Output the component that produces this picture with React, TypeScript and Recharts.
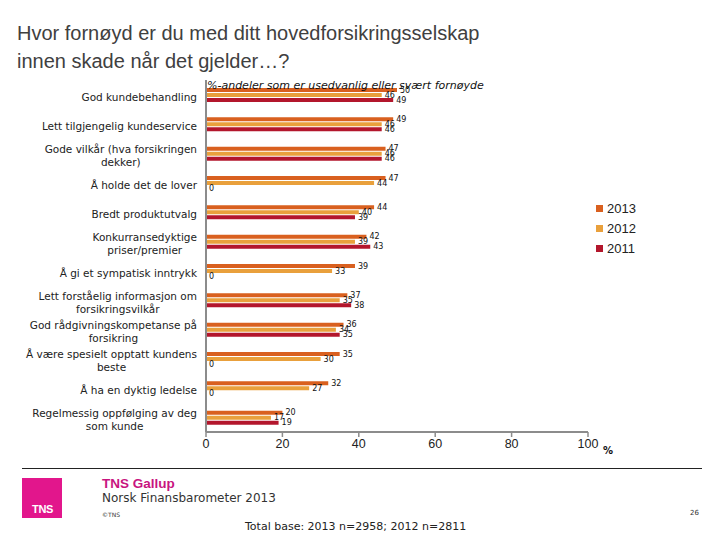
import React from "react";
import { BarChart, Bar, XAxis, YAxis, LabelList } from "recharts";

const categories = [
  "God kundebehandling",
  "Lett tilgjengelig kundeservice",
  "Gode vilkår (hva forsikringen dekker)",
  "Å holde det de lover",
  "Bredt produktutvalg",
  "Konkurransedyktige priser/premier",
  "Å gi et sympatisk inntrykk",
  "Lett forståelig informasjon om forsikringsvilkår",
  "God rådgivningskompetanse på forsikring",
  "Å være spesielt opptatt kundens beste",
  "Å ha en dyktig ledelse",
  "Regelmessig oppfølging av deg som kunde",
];
const values2013 = [50, 49, 47, 47, 44, 42, 39, 37, 36, 35, 32, 20];
const values2012 = [46, 46, 46, 44, 40, 39, 33, 35, 34, 30, 27, 17];
const values2011 = [49, 46, 46, 0, 39, 43, 0, 38, 35, 0, 0, 19];
const seriesNames = ["2013", "2012", "2011"];
const xTicks = [0, 20, 40, 60, 80, 100];

const COLORS = ["#D9601F", "#E9A03C", "#B3162C"];

const data = categories.map((c, i) => ({
  name: c,
  y2013: values2013[i],
  y2012: values2012[i],
  y2011: values2011[i],
}));

const TICK_FONT = "10.5px 'DejaVu Sans'";
let ctx: CanvasRenderingContext2D | null = null;
function measure(t: string): number {
  if (!ctx) {
    const c = document.createElement("canvas");
    ctx = c.getContext("2d");
  }
  if (!ctx) return t.length * 6;
  ctx.font = TICK_FONT;
  return ctx.measureText(t).width;
}
function wrap(text: string, maxW: number): string[] {
  const words = text.split(" ");
  const lines: string[] = [];
  let cur = "";
  for (const w of words) {
    const test = cur ? cur + " " + w : w;
    if (measure(test) > maxW && cur) {
      lines.push(cur);
      cur = w;
    } else cur = test;
  }
  if (cur) lines.push(cur);
  return lines;
}

const CategoryTick = (props: any) => {
  const { y, payload } = props;
  const lines = wrap(payload.value, 180);
  const widths = lines.map(measure);
  const maxW = Math.max(...widths);
  const right = 197;
  const lh = 13;
  const startY = y + 2 - ((lines.length - 1) * lh) / 2;
  const cx = right - maxW / 2;
  return (
    <g>
      {lines.map((l, i) => (
        <text
          key={i}
          x={lines.length > 1 ? cx : right}
          y={startY + i * lh}
          textAnchor={lines.length > 1 ? "middle" : "end"}
          dominantBaseline="central"
          fontFamily="'DejaVu Sans'"
          fontSize={10.5}
          fill="#222"
        >
          {l}
        </text>
      ))}
    </g>
  );
};

const ValueLabel = (props: any) => {
  const { x, y, width, height, value } = props;
  const w = value === 0 ? 0 : width;
  return (
    <text
      x={x + w + 3}
      y={y + height / 2}
      dominantBaseline="central"
      fontFamily="'DejaVu Sans'"
      fontSize={8}
      fill="#111"
    >
      {value}
    </text>
  );
};

const keys = ["y2013", "y2012", "y2011"];

export default function App() {
  return (
    <div
      style={{
        position: "absolute",
        left: 0,
        top: 0,
        width: 720,
        height: 540,
        background: "#fff",
        overflow: "hidden",
        fontFamily: "'DejaVu Sans'",
      }}
    >
      <div
        style={{
          position: "absolute",
          left: 17,
          top: 19,
          fontFamily: "'Liberation Sans'",
          fontSize: 20,
          lineHeight: "28px",
          color: "#404040",
          whiteSpace: "nowrap",
        }}
      >
        Hvor fornøyd er du med ditt hovedforsikringsselskap
        <br />
        innen skade når det gjelder…?
      </div>
      <div style={{ position: "absolute", left: 0, top: 0 }}>
        <BarChart
          width={720}
          height={540}
          data={data}
          layout="vertical"
          margin={{ top: 80, right: 132, bottom: 78, left: 0 }}
          barSize={4}
          barGap={1}
        >
          <XAxis
            type="number"
            domain={[0, 100]}
            ticks={xTicks}
            interval={0}
            axisLine={{ stroke: "#8c8c8c", strokeWidth: 2 }}
            tickLine={{ stroke: "#8c8c8c", strokeWidth: 1.5 }}
            tickSize={5}
            tick={{ fontFamily: "'Liberation Sans'", fontSize: 12.5, fill: "#222" }}
            height={30}
          />
          <YAxis
            type="category"
            dataKey="name"
            width={206}
            axisLine={{ stroke: "#8c8c8c", strokeWidth: 2 }}
            tickLine={false}
            tick={<CategoryTick />}
            interval={0}
          />
          {keys.map((k, i) => (
            <Bar
              key={k}
              dataKey={k}
              name={seriesNames[i]}
              fill={COLORS[i]}
              minPointSize={0.01}
              isAnimationActive={false}
            >
              <LabelList dataKey={k} content={<ValueLabel />} />
            </Bar>
          ))}
        </BarChart>
      </div>
      <div
        style={{
          position: "absolute",
          left: 207,
          top: 79,
          fontFamily: "'DejaVu Sans'",
          fontStyle: "italic",
          fontSize: 11,
          color: "#111",
          whiteSpace: "nowrap",
        }}
      >
        %-andeler som er usedvanlig eller svært fornøyde
      </div>
      {seriesNames.map((s, i) => (
        <div
          key={s}
          style={{
            position: "absolute",
            left: 596,
            top: 201 + i * 20,
            display: "flex",
            alignItems: "center",
            fontFamily: "'Liberation Sans'",
            fontSize: 13,
            color: "#222",
          }}
        >
          <span
            style={{
              display: "inline-block",
              width: 7,
              height: 7,
              background: COLORS[i],
              marginRight: 4,
            }}
          />
          {s}
        </div>
      ))}
      <div
        style={{
          position: "absolute",
          left: 603,
          top: 445,
          fontFamily: "'DejaVu Sans'",
          fontWeight: "bold",
          fontSize: 10,
          color: "#111",
        }}
      >
        %
      </div>
      <div
        style={{
          position: "absolute",
          left: 22,
          top: 468,
          width: 680,
          height: 1,
          background: "#222",
        }}
      />
      <div
        style={{
          position: "absolute",
          left: 22,
          top: 478,
          width: 40,
          height: 40,
          background: "#E2168C",
        }}
      >
        <div
          style={{
            position: "absolute",
            left: 10,
            bottom: 3,
            color: "#fff",
            fontFamily: "'Liberation Sans'",
            fontWeight: "bold",
            fontSize: 11,
            letterSpacing: -0.3,
          }}
        >
          TNS
        </div>
      </div>
      <div
        style={{
          position: "absolute",
          left: 102,
          top: 476,
          fontFamily: "'Liberation Sans'",
          fontWeight: "bold",
          fontSize: 13.5,
          color: "#C8147F",
        }}
      >
        TNS Gallup
      </div>
      <div
        style={{
          position: "absolute",
          left: 102,
          top: 491,
          fontFamily: "'DejaVu Sans'",
          fontSize: 12,
          color: "#333",
          whiteSpace: "nowrap",
        }}
      >
        Norsk Finansbarometer 2013
      </div>
      <div
        style={{
          position: "absolute",
          left: 102,
          top: 511,
          fontFamily: "'DejaVu Sans'",
          fontSize: 6,
          color: "#333",
        }}
      >
        ©TNS
      </div>
      <div
        style={{
          position: "absolute",
          left: 690,
          top: 509,
          fontFamily: "'DejaVu Sans'",
          fontSize: 7,
          color: "#333",
        }}
      >
        26
      </div>
      <div
        style={{
          position: "absolute",
          left: 245,
          top: 520,
          fontFamily: "'DejaVu Sans'",
          fontSize: 11,
          color: "#222",
          whiteSpace: "nowrap",
        }}
      >
        Total base: 2013 n=2958; 2012 n=2811
      </div>
    </div>
  );
}
